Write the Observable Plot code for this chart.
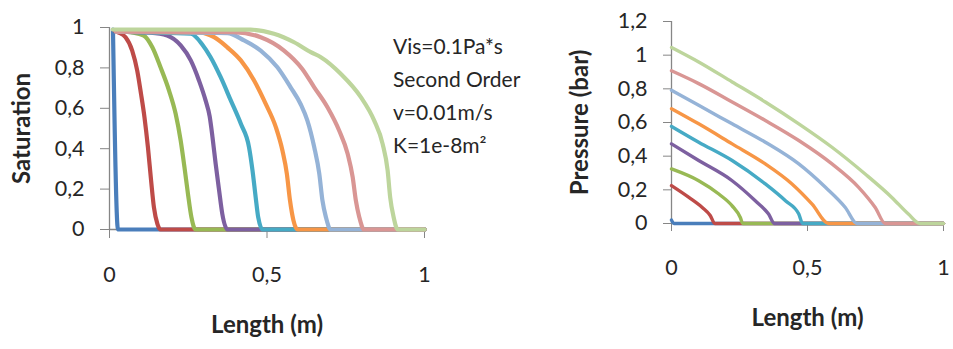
<!DOCTYPE html>
<html>
<head>
<meta charset="utf-8">
<script src="https://cdn.jsdelivr.net/npm/d3@7"></script>
<script src="https://cdn.jsdelivr.net/npm/@observablehq/plot@0.6"></script>
<style>
  html, body { margin: 0; padding: 0; background: #fff; }
  #wrap { position: relative; width: 953px; height: 349px; overflow: hidden; font-family: Lato, "Open Sans", sans-serif; }
  #left { position: absolute; left: 0; top: 0; }
  #right { position: absolute; left: 480px; top: 0; }
  #note { position: absolute; left: 393px; top: 29px; font-size: 21px; line-height: 33px; color: #262626; white-space: nowrap; }
  #wrap svg text { fill: #262626; }
</style>
</head>
<body>
<div id="wrap">
  <div id="left"></div>
  <div id="right"></div>
  <div id="note">Vis=0.1Pa*s<br>Second Order<br>v=0.01m/s<br>K=1e-8m²</div>
</div>
<script>
// ---- data ----
const seriesNames = ["s1", "s2", "s3", "s4", "s5", "s6", "s7", "s8", "s9"];
const seriesColors = ["#4A7EBB", "#BE4B48", "#98B954", "#7D60A0", "#46AAC5", "#F79646", "#95B3D7", "#D99694", "#BDD59C"];
const xTicks = [0, 0.5, 1];
const satTicks = [0, 0.2, 0.4, 0.6, 0.8, 1];
const presTicks = [0, 0.2, 0.4, 0.6, 0.8, 1, 1.2];
const satLabel = "Saturation";
const presLabel = "Pressure (bar)";
const lengthLabel = "Length (m)";

// Saturation profiles [length (m), saturation]
const sat1 = [[0.011,0.99],[0.027,0],[1,0]];
const sat2 = [[0.016,0.985],[0.026,0.977],[0.051,0.952],[0.072,0.886],[0.088,0.787],[0.1,0.672],[0.111,0.556],[0.122,0.407],[0.132,0.243],[0.141,0.11],[0.152,0.028],[0.162,0],[1,0]];
const sat3 = [[0.02,0.985],[0.067,0.977],[0.109,0.96],[0.136,0.902],[0.162,0.803],[0.189,0.688],[0.21,0.573],[0.226,0.44],[0.238,0.308],[0.249,0.177],[0.26,0.061],[0.273,0],[1,0]];
const sat4 = [[0.02,0.98],[0.13,0.974],[0.183,0.96],[0.226,0.911],[0.258,0.837],[0.284,0.738],[0.305,0.639],[0.318,0.56],[0.327,0.457],[0.337,0.325],[0.348,0.193],[0.358,0.078],[0.374,0],[1,0]];
const sat5 = [[0.02,0.98],[0.258,0.969],[0.295,0.915],[0.321,0.853],[0.353,0.754],[0.385,0.639],[0.417,0.523],[0.443,0.407],[0.454,0.292],[0.464,0.16],[0.472,0.061],[0.486,0],[1,0]];
const sat6 = [[0.02,0.98],[0.289,0.975],[0.332,0.952],[0.374,0.902],[0.417,0.837],[0.459,0.738],[0.496,0.622],[0.528,0.507],[0.549,0.391],[0.563,0.276],[0.573,0.144],[0.584,0.045],[0.597,0],[1,0]];
const sat7 = [[0.02,0.98],[0.374,0.972],[0.427,0.936],[0.48,0.886],[0.533,0.803],[0.575,0.704],[0.607,0.62],[0.628,0.54],[0.65,0.407],[0.666,0.276],[0.676,0.144],[0.687,0.061],[0.702,0],[1,0]];
const sat8 = [[0.02,0.98],[0.395,0.977],[0.48,0.952],[0.554,0.886],[0.612,0.795],[0.65,0.704],[0.692,0.605],[0.729,0.49],[0.756,0.375],[0.772,0.259],[0.782,0.144],[0.793,0.061],[0.808,0],[1,0]];
const sat9 = [[0.01,0.99],[0.448,0.989],[0.522,0.969],[0.586,0.927],[0.639,0.878],[0.671,0.853],[0.734,0.771],[0.798,0.655],[0.84,0.54],[0.867,0.424],[0.883,0.292],[0.891,0.16],[0.902,0.061],[0.915,0],[1,0]];

// Pressure profiles [length (m), pressure (bar)]
const pres1 = [[0,0.02],[0.009,0],[1,0]];
const pres2 = [[0,0.225],[0.064,0.155],[0.113,0.095],[0.143,0.046],[0.159,0],[1,0]];
const pres3 = [[0,0.324],[0.1,0.254],[0.174,0.175],[0.223,0.105],[0.253,0.036],[0.262,0],[1,0]];
const pres4 = [[0,0.473],[0.1,0.374],[0.223,0.254],[0.308,0.135],[0.357,0.056],[0.379,0],[1,0]];
const pres5 = [[0,0.577],[0.1,0.483],[0.223,0.374],[0.345,0.235],[0.419,0.135],[0.468,0.056],[0.482,0],[1,0]];
const pres6 = [[0,0.682],[0.1,0.592],[0.223,0.473],[0.345,0.354],[0.443,0.235],[0.517,0.115],[0.578,0],[1,0]];
const pres7 = [[0,0.791],[0.1,0.702],[0.223,0.592],[0.345,0.483],[0.468,0.354],[0.566,0.215],[0.639,0.095],[0.682,0],[1,0]];
const pres8 = [[0,0.907],[0.1,0.831],[0.223,0.722],[0.345,0.612],[0.468,0.493],[0.59,0.354],[0.688,0.215],[0.749,0.095],[0.786,0],[1,0]];
const pres9 = [[0,1.046],[0.1,0.96],[0.223,0.841],[0.345,0.722],[0.468,0.592],[0.59,0.453],[0.712,0.294],[0.81,0.155],[0.871,0.056],[0.914,0],[1,0]];

const satSeries = [sat1, sat2, sat3, sat4, sat5, sat6, sat7, sat8, sat9];
const presSeries = [pres1, pres2, pres3, pres4, pres5, pres6, pres7, pres8, pres9];

function toTable(list) {
  const rows = [];
  list.forEach((pts, i) => pts.forEach(([x, y]) => rows.push({series: seriesNames[i], x, y})));
  return rows;
}
const satRows = toTable(satSeries);
const presRows = toTable(presSeries);

const fmt = d => String(d).replace(".", ",");
const axisGray = "#868686";
const font = "Lato, 'Open Sans', sans-serif";

const left = Plot.plot({
  width: 480, height: 349,
  marginLeft: 109, marginRight: 56, marginTop: 27, marginBottom: 120,
  style: {fontSize: "21.5px", fontFamily: font, color: axisGray, background: "transparent"},
  x: {domain: [0, 1], ticks: xTicks, tickFormat: fmt, tickSize: 9, tickPadding: 28, label: null},
  y: {domain: [0, 1], ticks: satTicks, tickFormat: fmt, tickSize: 9, tickPadding: 16, label: null},
  color: {domain: seriesNames, range: seriesColors},
  marks: [
    Plot.ruleX([0], {stroke: axisGray, strokeWidth: 1.3}),
    Plot.ruleY([0], {stroke: axisGray, strokeWidth: 1.3}),
    Plot.line(satRows, {x: "x", y: "y", z: "series", stroke: "series", strokeWidth: 4.2, curve: "monotone-x", strokeLinejoin: "round"}),
    Plot.text([lengthLabel], {text: d => d, frameAnchor: "bottom", textAnchor: "middle", lineAnchor: "middle", dy: 96, fontWeight: "bold", fontSize: 24}),
    Plot.text([satLabel], {text: d => d, frameAnchor: "left", textAnchor: "middle", lineAnchor: "middle", dx: -87, rotate: -90, fontWeight: "bold", fontSize: 24})
  ]
});
document.getElementById("left").appendChild(left);

const right = Plot.plot({
  width: 473, height: 349,
  marginLeft: 191, marginRight: 10, marginTop: 21, marginBottom: 126,
  style: {fontSize: "21.5px", fontFamily: font, color: axisGray, background: "transparent"},
  x: {domain: [0, 1], ticks: xTicks, tickFormat: fmt, tickSize: 8, tickPadding: 28, label: null},
  y: {domain: [0, 1.2], ticks: presTicks, tickFormat: fmt, tickSize: 8, tickPadding: 16, label: null},
  color: {domain: seriesNames, range: seriesColors},
  marks: [
    Plot.ruleX([0], {stroke: axisGray, strokeWidth: 1.3}),
    Plot.ruleY([0], {stroke: axisGray, strokeWidth: 1.3}),
    Plot.line(presRows, {x: "x", y: "y", z: "series", stroke: "series", strokeWidth: 3.4, curve: "monotone-x", strokeLinejoin: "round"}),
    Plot.text([lengthLabel], {text: d => d, frameAnchor: "bottom", textAnchor: "middle", lineAnchor: "middle", dy: 95, fontWeight: "bold", fontSize: 24}),
    Plot.text([presLabel], {text: d => d, frameAnchor: "left", textAnchor: "middle", lineAnchor: "middle", dx: -91, rotate: -90, fontWeight: "bold", fontSize: 24})
  ]
});
document.getElementById("right").appendChild(right);
</script>
</body>
</html>
